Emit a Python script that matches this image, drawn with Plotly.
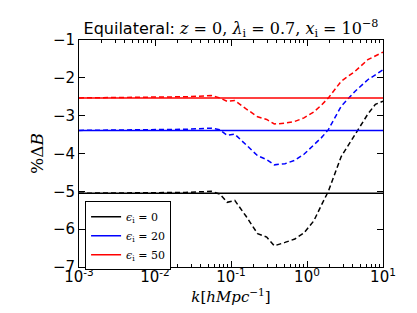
import plotly.graph_objects as go

# k grid for the dashed (computed) curves, h/Mpc
k_dashed = [0.001, 0.01, 0.025, 0.055, 0.071, 0.089, 0.112, 0.158, 0.224, 0.295, 0.372,
            0.513, 0.692, 0.912, 1.23, 1.55, 1.91, 2.82, 4.27, 6.31, 7.94, 10.0]
eps0_dashed = [-5.05, -5.04, -5.03, -5.00, -5.07, -5.29, -5.24, -5.66, -6.12, -6.21, -6.44,
               -6.35, -6.26, -6.10, -5.78, -5.36, -5.00, -4.08, -3.50, -2.96, -2.70, -2.62]
eps20_dashed = [-3.39, -3.38, -3.36, -3.33, -3.37, -3.52, -3.49, -3.77, -4.06, -4.16, -4.30,
                -4.27, -4.18, -4.02, -3.78, -3.58, -3.37, -2.75, -2.36, -2.05, -1.92, -1.79]
eps50_dashed = [-2.53, -2.52, -2.50, -2.47, -2.53, -2.62, -2.60, -2.82, -3.03, -3.10, -3.22,
                -3.20, -3.15, -3.06, -2.90, -2.72, -2.53, -2.09, -1.83, -1.52, -1.42, -1.32]

# constant (analytic) levels
k_const = [0.001, 10.0]
eps0_const = -5.05
eps20_const = -3.39
eps50_const = -2.53

legend_labels = ["0", "20", "50"]
colors = ["black", "blue", "red"]

x_tickvals = [1e-3, 1e-2, 1e-1, 1e0, 1e1]
x_ticktext = ["10<sup>-3</sup>", "10<sup>-2</sup>", "10<sup>-1</sup>", "10<sup>0</sup>", "10<sup>1</sup>"]
y_tickvals = [-7, -6, -5, -4, -3, -2, -1]
y_ticktext = ["\u22127", "\u22126", "\u22125", "\u22124", "\u22123", "\u22122", "\u22121"]

minor_vals = [m * 10.0 ** e for e in range(-3, 1) for m in range(2, 10)]

SERIF = "DejaVu Serif"
fig = go.Figure()

consts = [eps0_const, eps20_const, eps50_const]
dashed = [eps0_dashed, eps20_dashed, eps50_dashed]
for c, lab, const, dsh in zip(colors, legend_labels, consts, dashed):
    fig.add_trace(go.Scatter(
        x=k_const, y=[const, const], mode="lines",
        line=dict(color=c, width=1.5),
        name=f"<i>\u03f5</i><sub>i</sub> = {lab}",
    ))
    fig.add_trace(go.Scatter(
        x=k_dashed, y=dsh, mode="lines",
        line=dict(color=c, width=1.5, dash="5px,3px"),
        showlegend=False,
    ))

axis_common = dict(
    showline=True, linecolor="black", linewidth=1, mirror="ticks",
    ticks="inside", tickcolor="black", ticklen=6, tickwidth=1,
    showgrid=False, zeroline=False,
    tickfont=dict(family="DejaVu Sans", size=15, color="black"),
)

fig.update_layout(
    width=417, height=313,
    margin=dict(l=71, r=42, t=32, b=54),
    paper_bgcolor="white", plot_bgcolor="white",
    title=dict(
        text=("Equilateral: <span style='font-family:DejaVu Serif'><i>z</i> = 0, "
              "<i>\u03bb</i><sub>i</sub> = 0.7, <i>x</i><sub>i</sub> = 10<sup>\u22128</sup></span>"),
        xref="paper", x=0.5, xanchor="center", y=0.935, yanchor="middle",
        font=dict(family="DejaVu Sans", size=16, color="black"),
    ),
    xaxis=dict(
        type="log", range=[-3, 1],
        tickmode="array", tickvals=x_tickvals, ticktext=x_ticktext,
        ticklabelstandoff=-4,
        minor=dict(ticks="inside", ticklen=3, tickcolor="black", tickmode="array",
                   tickvals=minor_vals, showgrid=False),
        title=dict(text="<i>k</i>[<i>hMpc</i><sup>\u22121</sup>]",
                   font=dict(family=SERIF, size=15, color="black"), standoff=0),
        **axis_common,
    ),
    yaxis=dict(
        range=[-7, -1],
        tickmode="array", tickvals=y_tickvals, ticktext=y_ticktext,
        title=dict(text="%\u0394<i>B</i>",
                   font=dict(family=SERIF, size=17, color="black"), standoff=4),
        **axis_common,
    ),
    legend=dict(
        x=0.02, y=0.29, xanchor="left", yanchor="top",
        bgcolor="white", bordercolor="black", borderwidth=1,
        font=dict(family=SERIF, size=11, color="black"),
        tracegroupgap=0, itemwidth=30,
    ),
    showlegend=True,
)

fig.write_html("out.html")
